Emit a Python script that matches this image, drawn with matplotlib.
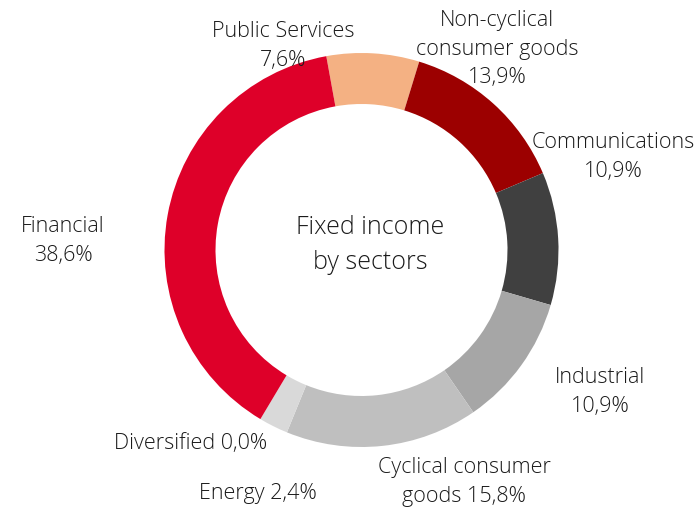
import matplotlib
matplotlib.use('Agg')
import matplotlib.pyplot as plt

sectors = ['Public Services', 'Non-cyclical consumer goods', 'Communications',
           'Industrial', 'Cyclical consumer goods', 'Energy', 'Diversified', 'Financial']
shares = [7.6, 13.9, 10.9, 10.9, 15.8, 2.4, 0.0, 38.6]
colors = ['#F4B183', '#9C0000', '#404040', '#A6A6A6', '#BFBFBF', '#D9D9D9', '#EDEDED', '#DE0029']

# label text and where it sits (pixel coords, y from top)
labels = ['Public Services\n7,6%', 'Non-cyclical\nconsumer goods\n13,9%', 'Communications\n10,9%',
          'Industrial\n10,9%', 'Cyclical consumer\ngoods 15,8%', 'Energy 2,4%',
          'Diversified 0,0%', 'Financial\n38,6%']
label_pos = [(283, 46), (497, 49), (613, 157), (600, 392), (464, 482), (258, 494),
             (191, 444), (63, 241)]

W, H = 697, 513
plt.rcParams['font.family'] = ['Open Sans', 'DejaVu Sans']

fig = plt.figure(figsize=(W / 100, H / 100), dpi=100)
ax = fig.add_axes([0, 0, 1, 1])

ax.pie(shares, colors=colors, startangle=100.3, counterclock=False,
       center=(361.5, H - 250), radius=197,
       wedgeprops={'width': 51, 'linewidth': 0})

ax.set_xlim(0, W)
ax.set_ylim(0, H)
ax.set_aspect('equal')
ax.axis('off')

for txt, (x, y) in zip(labels, label_pos):
    ax.text(x, H - y, txt, ha='center', va='center', fontsize=15.5, color='#1a1a1a',
            linespacing=1.47, fontweight='light')

ax.text(370, H - 245, 'Fixed income\nby sectors', ha='center', va='center',
        fontsize=18, color='#1a1a1a', linespacing=1.5, fontweight='light')

plt.savefig('out.png', dpi=100)
